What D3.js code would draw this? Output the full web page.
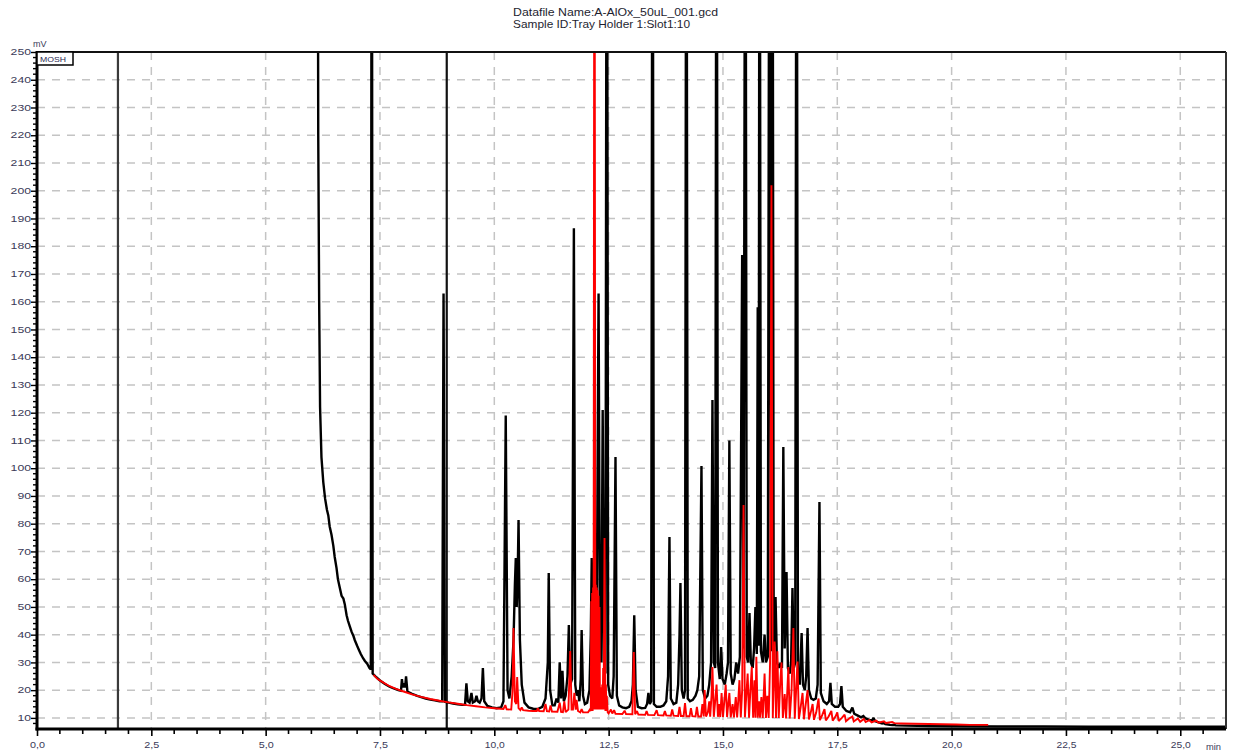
<!DOCTYPE html>
<html>
<head>
<meta charset="utf-8">
<script src="https://cdn.jsdelivr.net/npm/d3@7"></script>
<style>
  body { margin: 0; background: #fff; }
  svg { display: block; font-family: "Liberation Sans", Arial, sans-serif; }
</style>
</head>
<body>
<svg id="chart" width="1236" height="755"></svg>
<script>
/* GC chromatogram - two FID traces, mV vs retention time (min) */

const TITLE_LINES = ['Datafile Name:A-AlOx_50uL_001.gcd', 'Sample ID:Tray Holder 1:Slot1:10'];
const LEGEND_LABEL = 'MOSH';
const X_MAJOR = [0, 2.5, 5, 7.5, 10, 12.5, 15, 17.5, 20, 22.5, 25];
const X_LABELS = ['0,0', '2,5', '5,0', '7,5', '10,0', '12,5', '15,0', '17,5', '20,0', '22,5', '25,0'];
const Y_MAJOR = [10, 20, 30, 40, 50, 60, 70, 80, 90, 100, 110, 120, 130, 140, 150, 160, 170, 180, 190, 200, 210, 220, 230, 240, 250];
const MARKER_TIMES = [1.77, 8.96];

// black trace [min, mV] — values above 250 run off the top of the plot
const BLACK_TRACE = [
  [6.13, 400], [6.15, 220], [6.17, 160], [6.19, 122], [6.22, 104], [6.26, 95], [6.30, 89], [6.34, 85],
  [6.37, 83], [6.40, 79], [6.44, 76], [6.48, 72], [6.51, 68], [6.55, 64], [6.58, 60], [6.62, 57],
  [6.66, 54], [6.70, 53], [6.73, 51], [6.77, 47], [6.80, 45], [6.84, 43], [6.88, 41], [6.92, 39.5],
  [6.95, 38], [7.00, 36], [7.04, 34.5], [7.08, 33], [7.13, 31.5], [7.17, 30.5], [7.22, 29.5], [7.27, 28],
  [7.30, 27.5], [7.32, 400], [7.34, 26], [7.40, 25], [7.50, 23.5], [7.60, 22.3], [7.70, 21.3], [7.80, 20.6],
  [7.90, 20], [7.96, 19.8], [7.98, 24], [8.00, 21], [8.03, 22.5], [8.05, 21], [8.07, 25], [8.10, 19.5],
  [8.20, 18.7], [8.30, 18], [8.40, 17.5], [8.50, 17], [8.60, 16.6], [8.70, 16.3], [8.80, 16], [8.86, 16],
  [8.89, 163], [8.92, 15.8], [9.00, 15.5], [9.10, 15.2], [9.20, 14.9], [9.30, 14.7], [9.36, 14.8], [9.39, 22.5],
  [9.42, 16], [9.46, 15.5], [9.50, 19], [9.53, 15.5], [9.58, 16], [9.61, 18], [9.64, 16], [9.68, 15.5],
  [9.72, 17], [9.75, 28], [9.78, 16], [9.85, 14.3], [9.95, 13.8], [10.05, 13.5], [10.15, 13.8], [10.20, 16],
  [10.25, 119], [10.29, 20], [10.33, 17], [10.38, 25], [10.42, 38], [10.45, 58], [10.47, 67.6], [10.49, 50],
  [10.51, 60], [10.53, 81.3], [10.56, 38], [10.60, 22], [10.66, 15.5], [10.75, 13.8], [10.85, 13.3], [10.95, 13.2],
  [11.05, 14], [11.12, 17], [11.17, 30], [11.19, 62.2], [11.22, 20], [11.27, 14.5], [11.32, 14.5], [11.36, 17],
  [11.40, 15.5], [11.43, 30], [11.46, 17], [11.49, 27], [11.52, 16], [11.56, 18], [11.60, 25], [11.63, 43.5],
  [11.66, 22], [11.70, 24], [11.74, 186.5], [11.77, 22], [11.80, 18], [11.83, 20], [11.86, 16], [11.89, 24],
  [11.91, 41.7], [11.94, 18], [11.98, 15], [12.03, 15.5], [12.08, 20], [12.11, 40], [12.13, 67.6], [12.16, 35],
  [12.20, 30], [12.24, 45], [12.28, 163], [12.31, 35], [12.34, 30], [12.37, 121], [12.40, 30], [12.43, 26],
  [12.46, 400], [12.49, 22], [12.53, 18], [12.58, 17], [12.61, 25], [12.65, 104], [12.68, 18], [12.73, 14.5],
  [12.80, 13.8], [12.88, 13.5], [12.95, 14], [13.00, 16], [13.03, 22], [13.06, 47], [13.09, 20], [13.14, 14],
  [13.22, 13.5], [13.30, 13.6], [13.34, 15], [13.37, 19], [13.40, 15], [13.43, 16], [13.46, 400], [13.49, 15],
  [13.55, 14], [13.63, 14], [13.70, 14.5], [13.76, 16], [13.80, 25], [13.83, 75.2], [13.86, 17], [13.92, 15],
  [13.98, 15.5], [14.02, 22], [14.05, 40], [14.07, 58.6], [14.10, 20], [14.14, 17], [14.17, 20], [14.20, 400],
  [14.23, 17], [14.28, 16], [14.34, 16.5], [14.40, 18], [14.44, 20], [14.48, 25], [14.53, 100.8], [14.56, 20],
  [14.61, 17], [14.66, 18], [14.70, 22], [14.74, 30], [14.77, 124.6], [14.80, 30], [14.83, 28], [14.86, 400],
  [14.89, 30], [14.93, 24], [14.96, 35.5], [14.99, 24], [15.04, 22], [15.08, 26], [15.11, 30], [15.14, 110],
  [15.17, 26], [15.21, 22], [15.25, 24], [15.29, 30], [15.33, 26], [15.37, 32], [15.42, 176.8], [15.45, 35],
  [15.49, 400], [15.52, 32], [15.55, 30], [15.58, 47.8], [15.61, 30], [15.65, 28], [15.68, 35], [15.71, 50],
  [15.74, 33], [15.76, 158], [15.78, 36], [15.80, 400], [15.83, 34], [15.87, 30], [15.91, 40], [15.94, 30],
  [15.98, 32], [16.02, 400], [16.05, 34], [16.08, 400], [16.11, 33], [16.15, 53.6], [16.18, 30], [16.22, 28],
  [16.26, 29.8], [16.29, 28], [16.32, 107.6], [16.35, 35], [16.39, 62.6], [16.42, 28], [16.46, 26], [16.49, 30],
  [16.52, 56.8], [16.55, 28], [16.58, 30], [16.61, 400], [16.64, 25], [16.68, 22], [16.72, 40.6], [16.75, 22],
  [16.79, 20], [16.82, 25], [16.85, 42.4], [16.88, 20], [16.93, 17], [16.98, 16.5], [17.03, 17], [17.07, 22],
  [17.11, 87.8], [17.14, 19], [17.20, 16], [17.27, 15], [17.32, 16], [17.35, 22.6], [17.38, 15], [17.45, 14],
  [17.52, 14], [17.56, 15], [17.59, 21.5], [17.62, 14], [17.70, 12.5], [17.78, 12], [17.83, 13.7], [17.87, 11.5],
  [17.95, 10.8], [18.02, 10.2], [18.07, 10.7], [18.12, 9.8], [18.20, 9.3], [18.26, 9], [18.29, 10], [18.33, 8.8],
  [18.42, 8.3], [18.48, 8], [18.51, 8.2], [18.55, 7.8], [18.65, 7.5], [18.70, 7.4], [18.73, 7.5], [18.78, 7.3],
  [19.0, 7.2], [19.5, 7.1], [20.0, 7.0], [21.0, 6.9], [22.0, 6.9], [23.0, 6.8], [24.0, 6.8], [25.0, 6.8], [26.0, 6.8]
];

// red trace [min, mV]
const RED_TRACE = [
  [7.36, 25.5], [7.45, 24], [7.55, 23], [7.70, 21.5], [7.85, 20.5], [8.00, 19.6], [8.20, 18.5], [8.40, 17.6],
  [8.60, 16.8], [8.80, 16.2], [9.00, 15.6], [9.20, 15.1], [9.40, 14.6], [9.60, 14.2], [9.80, 13.8], [10.00, 13.5],
  [10.20, 13.2], [10.24, 14.6], [10.27, 13.1], [10.37, 13], [10.40, 20], [10.42, 42.4], [10.45, 16], [10.48, 15],
  [10.50, 24.7], [10.53, 13.5], [10.57, 12.8], [10.60, 13.8], [10.63, 12.8], [10.75, 12.6], [10.85, 12.5], [10.93, 12.5],
  [10.95, 13.5], [10.98, 12.5], [11.08, 12.4], [11.12, 15], [11.15, 12.4], [11.20, 12.3], [11.23, 14.5], [11.26, 12.3],
  [11.38, 12.2], [11.43, 15.5], [11.46, 12.2], [11.50, 12.1], [11.53, 16], [11.56, 12.1], [11.62, 13], [11.66, 34.1],
  [11.69, 13], [11.72, 13], [11.75, 19], [11.78, 13], [11.80, 16.5], [11.83, 12.5], [11.88, 12], [11.91, 13.2],
  [11.94, 12], [12.05, 12], [12.09, 13], [12.11, 12.5], [12.12, 52], [12.13, 12.5], [12.14, 55], [12.15, 12.5],
  [12.16, 57], [12.17, 13], [12.19, 400], [12.21, 13], [12.22, 58], [12.23, 13], [12.24, 57], [12.25, 13],
  [12.26, 56], [12.27, 13], [12.28, 54], [12.29, 13], [12.30, 50], [12.31, 13], [12.32, 21], [12.33, 13],
  [12.34, 20], [12.35, 13], [12.36, 22], [12.37, 13], [12.38, 28], [12.39, 13], [12.41, 74.8], [12.43, 12.5],
  [12.44, 22], [12.45, 12.5], [12.46, 18], [12.48, 12], [12.50, 11.6], [12.55, 13], [12.58, 11.6], [12.62, 12.8],
  [12.65, 11.5], [12.80, 11.4], [12.85, 12.6], [12.88, 11.4], [13.02, 11.3], [13.05, 33.7], [13.08, 11.3], [13.12, 12.5],
  [13.15, 11.2], [13.30, 11.1], [13.33, 12.5], [13.36, 11.1], [13.50, 11], [13.55, 12.8], [13.58, 11], [13.70, 10.9],
  [13.73, 12.5], [13.76, 10.9], [13.86, 10.8], [13.89, 13], [13.92, 10.8], [14.02, 10.7], [14.05, 14], [14.08, 10.7],
  [14.14, 10.7], [14.17, 15.3], [14.20, 10.6], [14.27, 10.6], [14.30, 13.5], [14.33, 10.6], [14.40, 10.5], [14.43, 14],
  [14.46, 10.5], [14.52, 10.5], [14.55, 15], [14.58, 10.5], [14.60, 20], [14.63, 10.5], [14.67, 12], [14.70, 16],
  [14.72, 10.4], [14.75, 18], [14.77, 28.3], [14.80, 10.4], [14.83, 16], [14.86, 22], [14.89, 10.4], [14.92, 15],
  [14.94, 10.3], [14.97, 19], [15.00, 10.3], [15.03, 16], [15.06, 22], [15.09, 10.3], [15.11, 14], [15.14, 19],
  [15.17, 10.2], [15.21, 15], [15.24, 10.2], [15.28, 17.5], [15.31, 10.2], [15.33, 15], [15.36, 23.6], [15.39, 10.2],
  [15.42, 20], [15.45, 86.7], [15.48, 10.2], [15.51, 18], [15.54, 26], [15.57, 10.1], [15.60, 20], [15.63, 28.4],
  [15.66, 10.1], [15.69, 23.6], [15.71, 10.1], [15.73, 32], [15.76, 10.1], [15.79, 16], [15.81, 10.1], [15.84, 17.5],
  [15.87, 10], [15.91, 26], [15.94, 10], [15.97, 18], [16.00, 10], [16.03, 30], [16.06, 202], [16.09, 10],
  [16.13, 37.5], [16.16, 10], [16.19, 34], [16.22, 10], [16.25, 22], [16.28, 30], [16.31, 10], [16.35, 18.6],
  [16.38, 9.8], [16.43, 28.3], [16.46, 9.8], [16.50, 20], [16.54, 42.4], [16.57, 9.7], [16.60, 20], [16.63, 30.3],
  [16.66, 9.6], [16.70, 14], [16.74, 19], [16.77, 9.5], [16.81, 15], [16.85, 20], [16.88, 9.4], [16.92, 12],
  [16.96, 15], [16.99, 9.3], [17.04, 12], [17.09, 17], [17.12, 9.2], [17.17, 11], [17.22, 13.2], [17.25, 9.1],
  [17.31, 10.5], [17.37, 12.5], [17.40, 9], [17.46, 10.5], [17.50, 12], [17.53, 8.9], [17.60, 10], [17.66, 11.2],
  [17.69, 8.8], [17.76, 9.8], [17.83, 10.5], [17.86, 8.7], [17.95, 9.8], [18.00, 8.6], [18.08, 9.6], [18.12, 8.5],
  [18.20, 9.2], [18.25, 8.4], [18.35, 9], [18.40, 8.3], [18.52, 8.8], [18.56, 8.2], [18.70, 8.5], [18.75, 8.1],
  [18.90, 8], [19.20, 7.9], [19.50, 7.8], [19.80, 7.7], [20.10, 7.6], [20.40, 7.5], [20.80, 7.5]
];

/* ── Layout ────────────────────────────────────────────────────────── */

const plot = { left: 37, right: 1226, top: 52, bottom: 729 };

const svg = d3.select('#chart');

const x = d3.scaleLinear().domain([0, 26]).range([plot.left, plot.right]);
const y = d3.scaleLinear().domain([6, 250]).range([plot.bottom, plot.top]);

svg.append('defs').append('clipPath')
  .attr('id', 'plot-clip')
  .append('rect')
  .attr('x', plot.left)
  .attr('y', plot.top)
  .attr('width', plot.right - plot.left)
  .attr('height', plot.bottom - plot.top);

// Title
svg.append('g')
  .selectAll('text')
  .data(TITLE_LINES)
  .join('text')
  .attr('x', 513)
  .attr('y', (d, i) => 16 + i * 12)
  .attr('font-size', 10.5)
  .attr('fill', '#1e1e30')
  .attr('textLength', (d, i) => i === 0 ? 205 : 177)
  .attr('lengthAdjust', 'spacingAndGlyphs')
  .text(d => d);

// Grid
const grid = svg.append('g')
  .attr('stroke', '#c4c4c4')
  .attr('stroke-width', 1.5)
  .attr('stroke-dasharray', '8,7');

grid.selectAll('line.h')
  .data(Y_MAJOR.filter(v => v < 250))
  .join('line')
  .attr('class', 'h')
  .attr('x1', plot.left)
  .attr('x2', plot.right)
  .attr('y1', d => y(d))
  .attr('y2', d => y(d));

grid.selectAll('line.v')
  .data(X_MAJOR.filter(v => v > 0))
  .join('line')
  .attr('class', 'v')
  .attr('x1', d => x(d))
  .attr('x2', d => x(d))
  .attr('y1', plot.top)
  .attr('y2', plot.bottom);

// Event marker lines
svg.append('g')
  .selectAll('line')
  .data(MARKER_TIMES)
  .join('line')
  .attr('x1', d => x(d))
  .attr('x2', d => x(d))
  .attr('y1', plot.top)
  .attr('y2', plot.bottom)
  .attr('stroke', (d, i) => i === 0 ? '#3a3a3a' : '#111')
  .attr('stroke-width', 2.2);

// Traces
const line = d3.line()
  .x(d => x(d[0]))
  .y(d => y(d[1]));

const traces = svg.append('g').attr('clip-path', 'url(#plot-clip)');

traces.append('path')
  .datum(BLACK_TRACE)
  .attr('d', line)
  .attr('fill', 'none')
  .attr('stroke', '#000')
  .attr('stroke-width', 2.4)
  .attr('stroke-linejoin', 'miter')
  .attr('stroke-miterlimit', 2);

traces.append('path')
  .datum(RED_TRACE)
  .attr('d', line)
  .attr('fill', 'none')
  .attr('stroke', '#ff0000')
  .attr('stroke-width', 1.9)
  .attr('stroke-linejoin', 'miter')
  .attr('stroke-miterlimit', 2);

// Frame
svg.append('line')
  .attr('x1', plot.left).attr('x2', plot.right)
  .attr('y1', plot.top).attr('y2', plot.top)
  .attr('stroke', '#111').attr('stroke-width', 2);
svg.append('line')
  .attr('x1', plot.right).attr('x2', plot.right)
  .attr('y1', plot.top).attr('y2', plot.bottom)
  .attr('stroke', '#333').attr('stroke-width', 2);

// Y axis
const yMinor = d3.range(8, 250, 2).filter(v => v % 10 !== 0);
const yAxis = svg.append('g')
  .attr('transform', `translate(${plot.left},0)`)
  .call(d3.axisLeft(y)
    .tickValues(Y_MAJOR)
    .tickSize(6)
    .tickFormat(d3.format('d')));
yAxis.select('.domain').remove();
yAxis.append('g')
  .selectAll('line')
  .data(yMinor)
  .join('line')
  .attr('x1', -4)
  .attr('x2', 0)
  .attr('y1', d => y(d))
  .attr('y2', d => y(d))
  .attr('stroke', '#000')
  .attr('stroke-width', 1.4);
yAxis.selectAll('.tick line').attr('stroke', '#000').attr('stroke-width', 1.4);
yAxis.selectAll('.tick text')
  .attr('x', -6)
  .attr('font-size', 8.5)
  .attr('font-family', '"Liberation Sans", Arial, sans-serif')
  .attr('fill', '#3a3a58')
  .attr('textLength', d => String(d).length * 6.8)
  .attr('lengthAdjust', 'spacingAndGlyphs');

// X axis
const xMinor = d3.range(0.5, 26, 0.5).filter(v => v % 2.5 !== 0);
const xAxis = svg.append('g')
  .attr('transform', `translate(0,${plot.bottom})`)
  .call(d3.axisBottom(x)
    .tickValues(X_MAJOR)
    .tickSize(7)
    .tickFormat((d, i) => X_LABELS[i]));
xAxis.select('.domain').remove();
xAxis.append('g')
  .selectAll('line')
  .data(xMinor)
  .join('line')
  .attr('x1', d => x(d))
  .attr('x2', d => x(d))
  .attr('y1', 0)
  .attr('y2', 5)
  .attr('stroke', '#000')
  .attr('stroke-width', 1.6);
xAxis.selectAll('.tick line').attr('stroke', '#000').attr('stroke-width', 1.6);
xAxis.selectAll('.tick text')
  .attr('y', 13)
  .attr('font-size', 8.5)
  .attr('font-family', '"Liberation Sans", Arial, sans-serif')
  .attr('fill', '#3a3a58')
  .attr('textLength', (d, i) => X_LABELS[i].length * 5)
  .attr('lengthAdjust', 'spacingAndGlyphs');
xAxis.append('text')
  .attr('x', 1221)
  .attr('y', 21)
  .attr('text-anchor', 'end')
  .attr('font-size', 8.5)
  .attr('fill', '#3a3a58')
  .attr('textLength', 15)
  .attr('lengthAdjust', 'spacingAndGlyphs')
  .text('min');

// Axis lines
svg.append('line')
  .attr('x1', plot.left).attr('x2', plot.left)
  .attr('y1', plot.top - 1).attr('y2', plot.bottom + 1.5)
  .attr('stroke', '#000').attr('stroke-width', 3);
svg.append('line')
  .attr('x1', plot.left - 1.5).attr('x2', plot.right)
  .attr('y1', plot.bottom).attr('y2', plot.bottom)
  .attr('stroke', '#000').attr('stroke-width', 3);

// Unit label
svg.append('text')
  .attr('x', 33)
  .attr('y', 47)
  .attr('font-size', 9)
  .attr('fill', '#3a3a58')
  .text('mV');

// Legend box
svg.append('rect')
  .attr('x', plot.left)
  .attr('y', plot.top)
  .attr('width', 36)
  .attr('height', 13)
  .attr('fill', '#fff')
  .attr('stroke', '#000')
  .attr('stroke-width', 1.5);
svg.append('text')
  .attr('x', plot.left + 3)
  .attr('y', plot.top + 9.5)
  .attr('font-size', 8)
  .attr('fill', '#2a2a50')
  .attr('textLength', 26)
  .attr('lengthAdjust', 'spacingAndGlyphs')
  .text(LEGEND_LABEL);
</script>
</body>
</html>
